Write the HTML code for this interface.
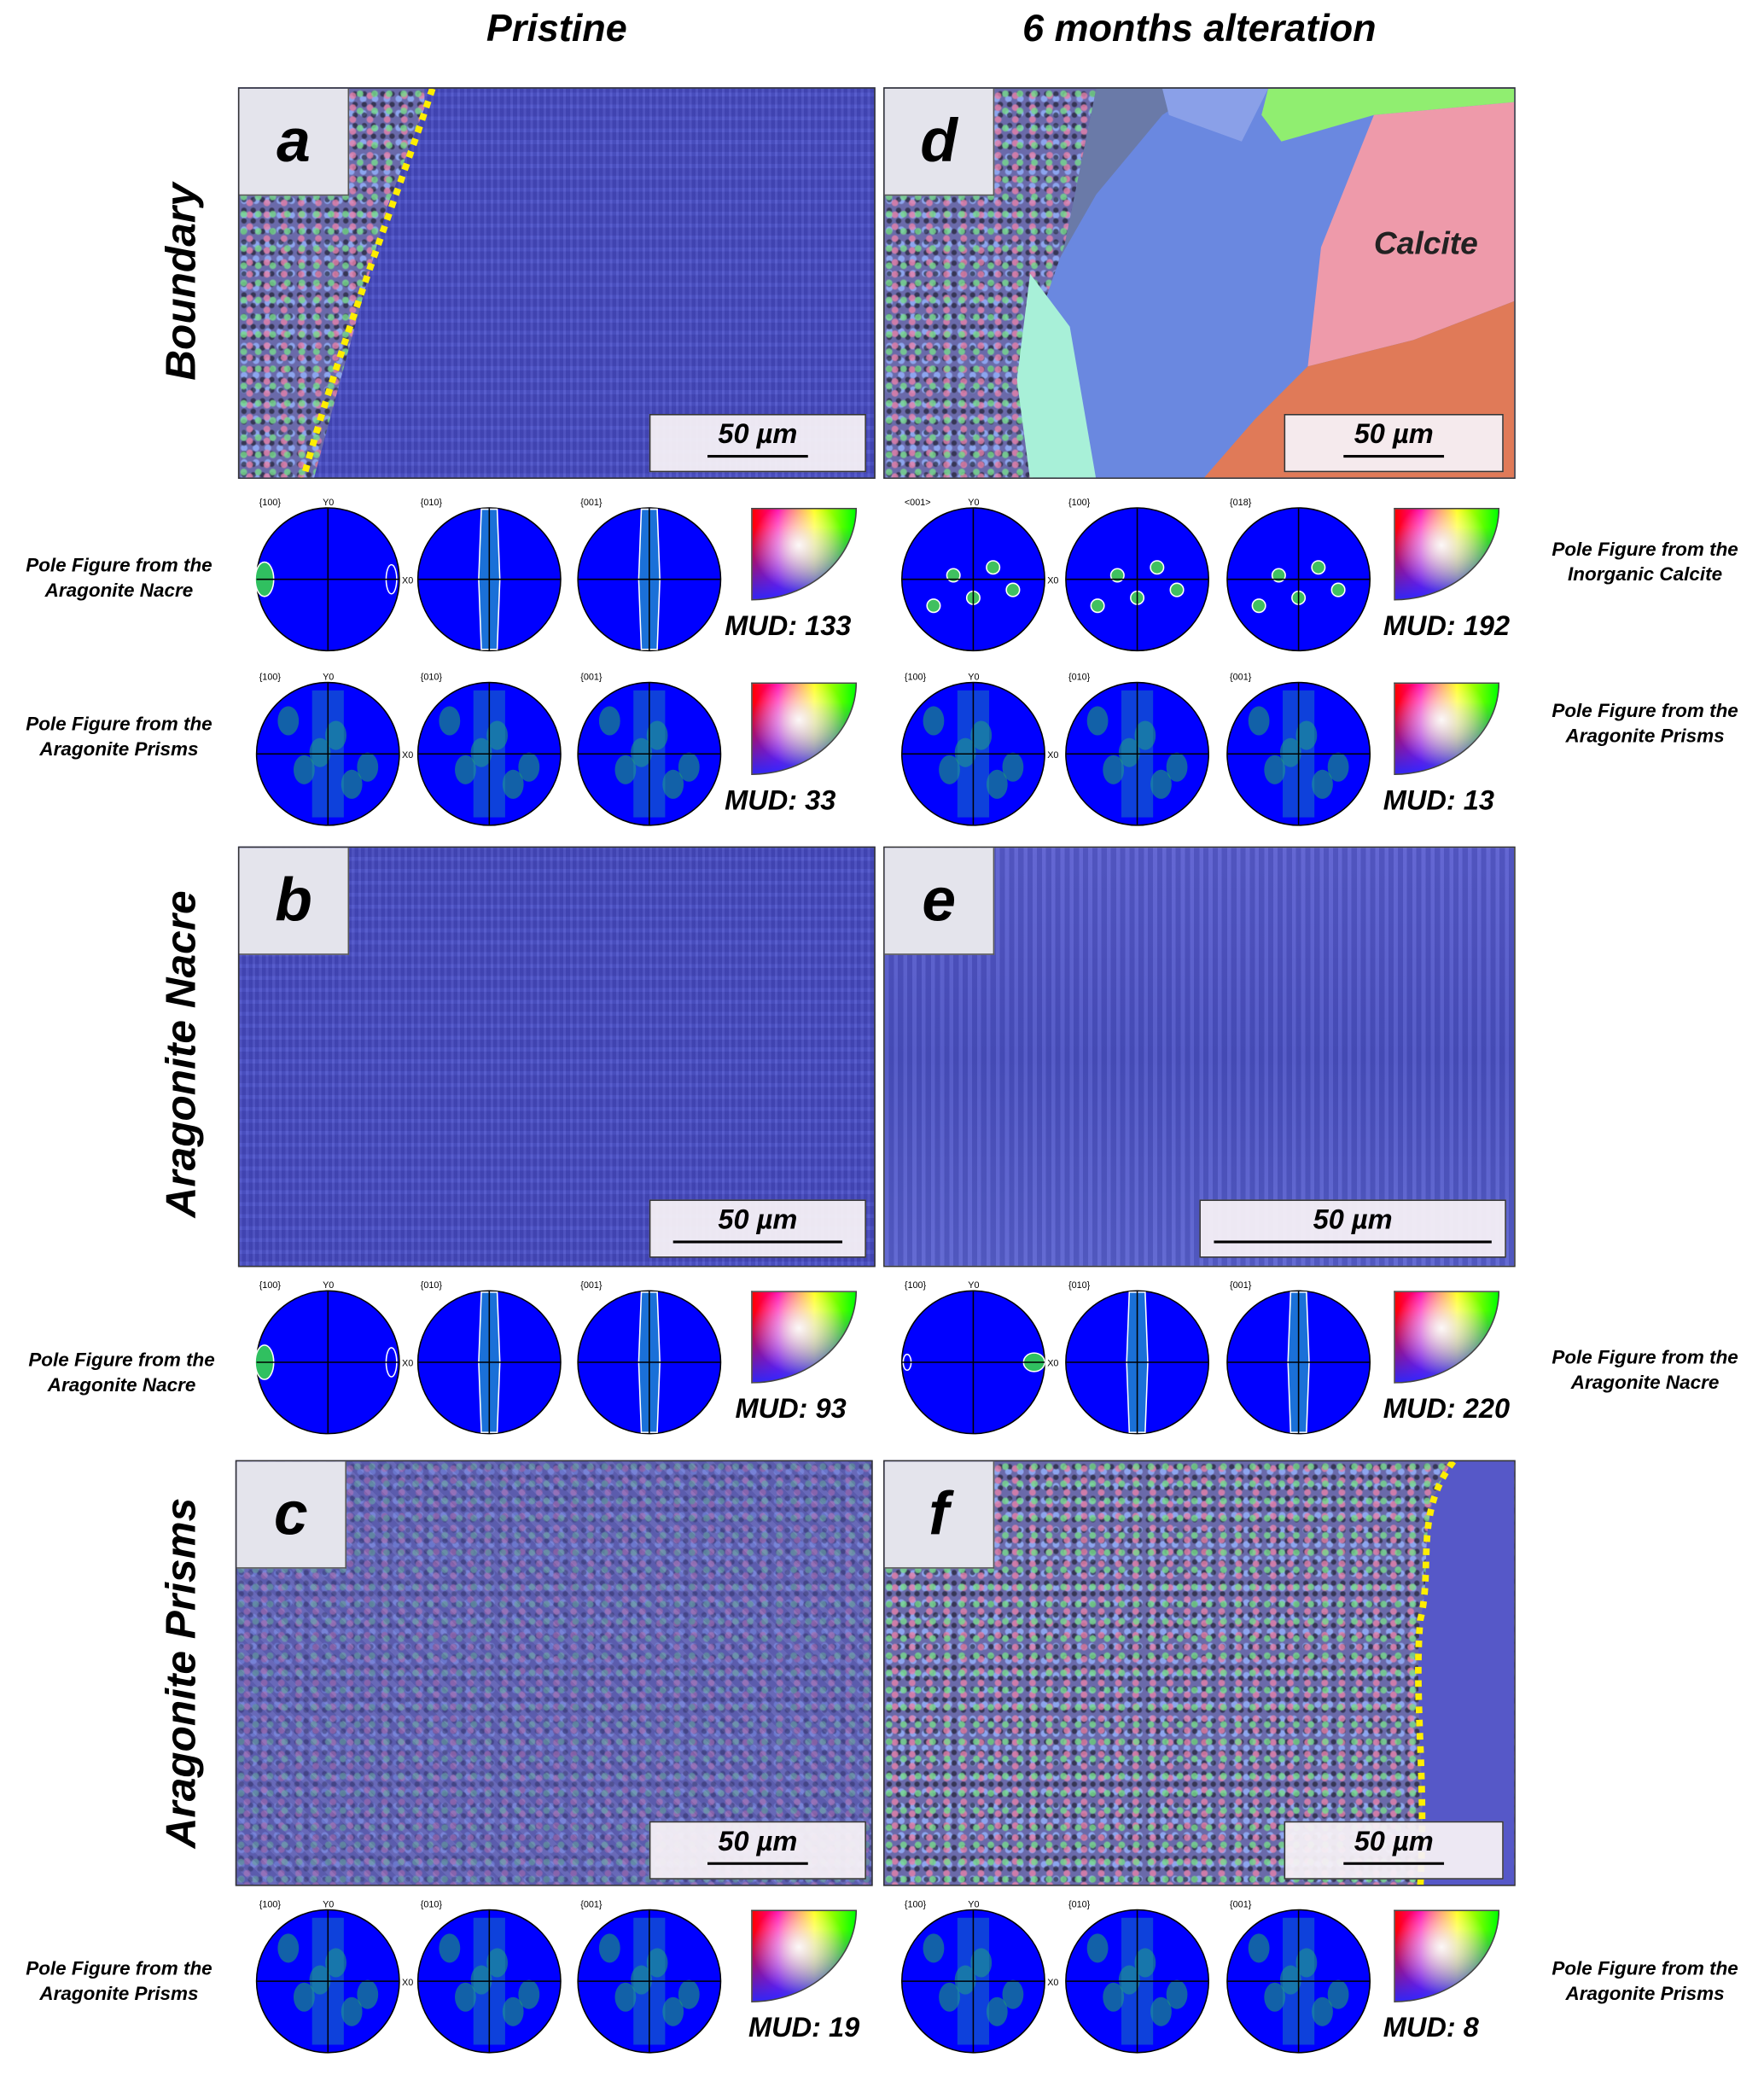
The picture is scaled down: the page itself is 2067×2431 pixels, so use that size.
<!DOCTYPE html>
<html><head><meta charset="utf-8"><style>
html,body{margin:0;padding:0;background:#fff;}
#root{position:relative;width:1334px;height:1569px;transform:scale(1.5495);transform-origin:0 0;font-family:"Liberation Sans",sans-serif;overflow:hidden;}
.abs{position:absolute;}
.title{position:absolute;font-weight:bold;font-style:italic;font-size:29px;text-align:center;width:400px;top:6px;}
.rowlab{position:absolute;font-weight:bold;font-style:italic;font-size:32px;white-space:nowrap;transform:translate(-50%,-50%) rotate(-90deg);}
.panel{position:absolute;border:1px solid #333;box-sizing:border-box;overflow:hidden;
background:
repeating-linear-gradient(90deg,rgba(255,255,255,0.05) 0 2px,rgba(0,0,40,0.08) 2px 5px),
repeating-linear-gradient(0deg,rgba(120,140,255,0.10) 0 3px,rgba(30,30,120,0.10) 3px 9px),
#4a4ec4;}
.grain{position:absolute;
background:
radial-gradient(circle at 30% 30%,rgba(120,220,140,.8) 0 2px,transparent 3px) 0 0/11px 13px,
radial-gradient(circle at 60% 60%,rgba(230,130,170,.8) 0 2px,transparent 3px) 0 0/13px 9px,
radial-gradient(circle at 50% 50%,rgba(20,20,30,.6) 0 1.5px,transparent 2.5px) 0 0/7px 8px,
radial-gradient(circle at 40% 70%,rgba(150,180,255,.8) 0 2px,transparent 3px) 0 0/9px 11px,
#6a6aaa;}
.letter{position:absolute;left:0;top:0;width:82px;height:80px;background:#e4e4ec;border-right:1px solid #555;border-bottom:1px solid #555;font-weight:bold;font-style:italic;font-size:46px;text-align:center;line-height:78px;color:#000;}
.scale{position:absolute;background:rgba(245,240,245,0.95);border:1px solid #333;font-weight:bold;font-style:italic;font-size:21px;text-align:center;box-sizing:border-box;line-height:30px;}
.scale span{display:block;margin:0 auto;height:2px;background:#000;}
.ptext{position:absolute;font-weight:bold;font-style:italic;font-size:14.5px;text-align:center;width:170px;line-height:19px;transform:translate(-50%,-50%);}
.mud{position:absolute;font-weight:bold;font-style:italic;font-size:21px;}
.ipf{position:absolute;width:80px;height:70px;border-radius:0 0 100% 0;border:1px solid #444;box-sizing:border-box;
background:radial-gradient(circle at 45% 40%,rgba(255,255,255,0.95) 0,rgba(255,255,255,0) 35px),
linear-gradient(180deg,rgba(0,0,0,0) 20%,rgba(40,40,255,0.95) 100%),
linear-gradient(90deg,#ff0000 0%,#ff00aa 25%,#ffff00 60%,#00ff00 100%);}
svg text{font-family:"Liberation Sans",sans-serif;}
</style></head><body>
<div id="root">
<div class="title" style="left:221px">Pristine</div>
<div class="title" style="left:707px">6 months alteration</div>
<div class="rowlab" style="left:137px;top:213px">Boundary</div>
<div class="rowlab" style="left:137px;top:797px">Aragonite Nacre</div>
<div class="rowlab" style="left:137px;top:1265px">Aragonite Prisms</div>

<!-- panel a -->
<div class="panel" style="left:180px;top:66px;width:482px;height:296px">
<div class="grain" style="left:0;top:0;width:140px;height:296px;clip-path:polygon(0 0,104% 0,80% 30%,40% 100%,0 100%)"></div>
<svg class="abs" style="left:0;top:0" width="482" height="296"><path d="M146 0 C120 80 80 180 48 296" stroke="#ffee00" stroke-width="5" stroke-dasharray="5 5" fill="none"/></svg>
<div class="letter">a</div>
<div class="scale" style="left:310px;top:246px;width:164px;height:44px">50 µm<span style="width:76px"></span></div>
</div>
<!-- panel d -->
<div class="panel" style="left:668px;top:66px;width:478px;height:296px;background:#5a6bb0">
<svg class="abs" style="left:0;top:0" width="478" height="296">
<rect width="478" height="296" fill="#6a7aa8"/>
<polygon points="130,296 120,150 160,80 210,20 240,0 478,0 478,296" fill="#6a88e0"/>
<polygon points="290,0 478,0 478,10 370,20 300,40 285,20" fill="#90ee70"/>
<polygon points="210,0 290,0 270,40 215,20" fill="#8aa0e8"/>
<polygon points="370,20 478,10 478,160 400,190 320,210 330,120" fill="#ee9aaa"/>
<polygon points="320,210 400,190 478,160 478,296 240,296 280,250" fill="#e07a58"/>
<text x="370" y="125" font-size="24" font-weight="bold" font-style="italic" fill="#222">Calcite</text>
</svg>
<div class="grain" style="left:0;top:0;width:160px;height:296px;clip-path:polygon(0 0,100% 0,85% 40%,72% 60%,70% 100%,0 100%)"></div>
<svg class="abs" style="left:0;top:0" width="478" height="296"><polygon points="110,140 140,180 160,296 110,296 100,220" fill="#a8f0d8"/></svg>
<div class="letter">d</div>
<div class="scale" style="left:302px;top:246px;width:166px;height:44px">50 µm<span style="width:76px"></span></div>
</div>
<!-- panel b -->
<div class="panel" style="left:180px;top:640px;width:482px;height:318px">
<div class="letter">b</div>
<div class="scale" style="left:310px;top:266px;width:164px;height:44px">50 µm<span style="width:128px"></span></div>
</div>
<!-- panel e -->
<div class="panel" style="left:668px;top:640px;width:478px;height:318px;background:repeating-linear-gradient(90deg,rgba(255,255,255,.06) 0 3px,rgba(0,0,40,.1) 3px 7px),linear-gradient(180deg,#5a5ed0,#4c52c4 50%,#5a62d0)">
<div class="letter">e</div>
<div class="scale" style="left:238px;top:266px;width:232px;height:44px">50 µm<span style="width:210px"></span></div>
</div>
<!-- panel c -->
<div class="panel" style="left:178px;top:1104px;width:482px;height:322px;background:repeating-linear-gradient(45deg,rgba(255,255,255,.08) 0 4px,rgba(0,0,60,.12) 4px 9px),#5a5cc0">
<div class="grain" style="left:0;top:0;width:482px;height:322px;opacity:.45"></div>
<div class="letter">c</div>
<div class="scale" style="left:312px;top:272px;width:164px;height:44px">50 µm<span style="width:76px"></span></div>
</div>
<!-- panel f -->
<div class="panel" style="left:668px;top:1104px;width:478px;height:322px;background:#5a5ab0">
<div class="grain" style="left:0;top:0;width:478px;height:322px"></div>
<svg class="abs" style="left:0;top:0" width="478" height="322"><path d="M430 0 C400 40 415 80 405 120 C400 180 410 240 405 322 L478 322 L478 0 Z" fill="#5658c8"/><path d="M430 0 C400 40 415 80 405 120 C400 180 410 240 405 322" stroke="#ffee00" stroke-width="5" stroke-dasharray="5 5" fill="none"/></svg>
<div class="letter">f</div>
<div class="scale" style="left:302px;top:272px;width:166px;height:44px">50 µm<span style="width:76px"></span></div>
</div>

<div class="ptext" style="left:90px;top:438px">Pole Figure from the<br>Aragonite Nacre</div>
<div class="ptext" style="left:90px;top:558px">Pole Figure from the<br>Aragonite Prisms</div>
<div class="ptext" style="left:92px;top:1039px">Pole Figure from the<br>Aragonite Nacre</div>
<div class="ptext" style="left:90px;top:1499px">Pole Figure from the<br>Aragonite Prisms</div>
<div class="ptext" style="left:1244px;top:426px">Pole Figure from the<br>Inorganic Calcite</div>
<div class="ptext" style="left:1244px;top:548px">Pole Figure from the<br>Aragonite Prisms</div>
<div class="ptext" style="left:1244px;top:1037px">Pole Figure from the<br>Aragonite Nacre</div>
<div class="ptext" style="left:1244px;top:1499px">Pole Figure from the<br>Aragonite Prisms</div>

<svg id="poles" class="abs" style="left:0;top:0" width="1334" height="1569"></svg>
</div>
<script>
const rowsY=[438,570,1030,1498];
const leftX=[248,370,491], rightX=[736,860,982];
const mudLeft=["133","33","93","19"], mudRight=["192","13","220","8"];
const labLeft=[["{100}","{010}","{001}"],["{100}","{010}","{001}"],["{100}","{010}","{001}"],["{100}","{010}","{001}"]];
const labRight=[["<001>","{100}","{018}"],["{100}","{010}","{001}"],["{100}","{010}","{001}"],["{100}","{010}","{001}"]];
const kindL=["nacre","prism","nacre","prism"], kindR=["calc","prism","nacreR","prism"];
const NS="http://www.w3.org/2000/svg";
const svg=document.getElementById('poles');
const root=document.getElementById('root');
function mk(t,a){const e=document.createElementNS(NS,t);for(const k in a)e.setAttribute(k,a[k]);svg.appendChild(e);return e;}
function pole(cx,cy,lab,kind,idx,first){
 const r=54;
 const c=mk('circle',{cx:cx,cy:cy,r:r,fill:'#0000ff',stroke:'#000','stroke-width':1});
 
 
 if(kind==='nacre'||kind==='nacreR'){
  if(idx===0){
   if(kind==='nacre'){mk('ellipse',{cx:cx-r+6,cy:cy,rx:7,ry:13,fill:'#30c060',stroke:'#fff'});mk('ellipse',{cx:cx+r-6,cy:cy,rx:4,ry:11,fill:'none',stroke:'#fff'});}
   else{mk('ellipse',{cx:cx+r-8,cy:cy,rx:8,ry:7,fill:'#30c060',stroke:'#fff'});mk('ellipse',{cx:cx-r+4,cy:cy,rx:3,ry:6,fill:'none',stroke:'#fff'});}
  }
  else mk('path',{d:`M${cx-6} ${cy-r+1} L${cx+6} ${cy-r+1} L${cx+8} ${cy} L${cx+6} ${cy+r-1} L${cx-6} ${cy+r-1} L${cx-8} ${cy} Z`,fill:'#1a70d8',stroke:'#fff'});
 } else if(kind==='prism'){
  for(let i=0;i<6;i++){mk('ellipse',{cx:cx-30+i*12,cy:cy-25+((i*37)%50),rx:8,ry:11,fill:'#20b060',opacity:.55});}
  mk('rect',{x:cx-12,y:cy-r+6,width:24,height:2*r-12,fill:'#2090b0',opacity:.45});
 } else {
  for(let i=0;i<5;i++){mk('circle',{cx:cx-30+i*15,cy:cy+20-((i*23)%40),r:5,fill:'#40c060',stroke:'#fff'});}
 }
 mk('line',{x1:cx-r,y1:cy,x2:cx+r,y2:cy,stroke:'#000','stroke-width':1});
 mk('line',{x1:cx,y1:cy-r,x2:cx,y2:cy+r,stroke:'#000','stroke-width':1});
 const t=mk('text',{x:cx-r+2,y:cy-r-2,'font-size':7});t.textContent=lab;
 if(first){const y=mk('text',{x:cx-4,y:cy-r-2,'font-size':7});y.textContent='Y0';const x=mk('text',{x:cx+r+2,y:cy+3,'font-size':7});x.textContent='X0';}
}
function legend(x,y,side){
 const d=document.createElement('div');d.className='ipf';d.style.left=x+'px';d.style.top=y+'px';
 
 
 root.appendChild(d);
}
function mud(x,y,v,side){
 const d=document.createElement('div');d.className='mud';d.style.left=x+'px';d.style.top=y+'px';d.textContent='MUD: '+v;
 
 
 root.appendChild(d);
}
rowsY.forEach((cy,i)=>{
 leftX.forEach((cx,j)=>pole(cx,cy,labLeft[i][j],kindL[i],j,j===0));
 rightX.forEach((cx,j)=>pole(cx,cy,labRight[i][j],kindR[i],j,j===0));
 legend(568,cy-54,'left');legend(1054,cy-54,'right');
 mud(i===3?566:(i===2?556:548),cy+24,mudLeft[i],'left');
 mud(1046,cy+24,mudRight[i],'right');
});
</script>
</body></html>
